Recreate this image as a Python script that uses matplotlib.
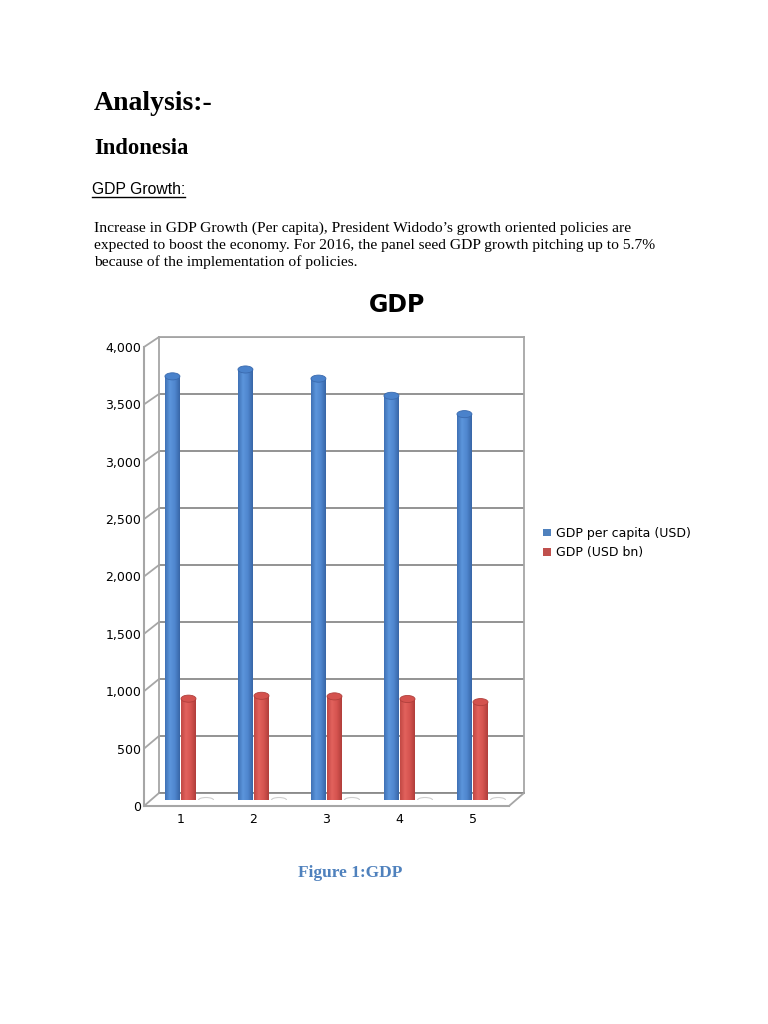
import numpy as np
import matplotlib
matplotlib.use("Agg")
import matplotlib.pyplot as plt
from matplotlib.patches import Rectangle, Ellipse, Patch, ConnectionPatch
from matplotlib.colors import LinearSegmentedColormap
from matplotlib.lines import Line2D

# data
categories = [1, 2, 3, 4, 5]
gdp_per_capita = [3700, 3760, 3680, 3530, 3370]
gdp_bn = [885, 910, 905, 882, 855]
series3 = [0, 0, 0, 0, 0]
yticks = [0, 500, 1000, 1500, 2000, 2500, 3000, 3500, 4000]
ytick_labels = ["0", "500", "1,000", "1,500", "2,000", "2,500", "3,000", "3,500", "4,000"]
legend_labels = ["GDP per capita (USD)", "GDP (USD bn)"]

paragraph = [
    "Increase in GDP Growth (Per capita), President Widodo\u2019s growth oriented policies are",
    "expected to boost the economy. For 2016, the panel seed GDP growth pitching up to 5.7%",
    "because of the implementation of policies.",
]

W, H = 768, 1024
fig = plt.figure(figsize=(W / 100, H / 100), dpi=100)
fig.patch.set_facecolor("white")


def px_rect(left, bottom_y, width, height):
    # pixel box (top-left origin) -> figure fraction
    return [left / W, 1 - bottom_y / H, width / W, height / H]


serif = ["Liberation Serif", "DejaVu Serif"]
sans = ["Liberation Sans", "DejaVu Sans"]

# ---- document text ----
fig.text(94 / W, 1 - 103 / H, "Analysis:-", family=serif, weight="bold", fontsize=20, va="center")
fig.text(94 / W, 1 - 148 / H, "Indonesia", family=serif, weight="bold", fontsize=16.3, va="center")
gh = fig.text(92 / W, 1 - 189 / H, "GDP Growth:", family=sans, fontsize=11.3, va="center")
for i, line in enumerate(paragraph):
    fig.text(94 / W, 1 - (228 + 17 * i) / H, line, family=serif, fontsize=11.15, va="center")
fig.text(350 / W, 1 - 873 / H, "Figure 1:GDP", family=serif, weight="bold", fontsize=12.5,
         color="#4F81BD", ha="center", va="center")

# underline under "GDP Growth:"
fig.canvas.draw()
bb = gh.get_window_extent(fig.canvas.get_renderer())
fig.add_artist(Line2D([bb.x0 / W, bb.x1 / W], [1 - 197 / H, 1 - 197 / H], color="black", lw=1))

# ---- chart title ----
fig.text(397 / W, 1 - 305 / H, "GDP", family=["DejaVu Sans"], weight="bold", fontsize=17,
         ha="center", va="center")

xlim = (0.5, 5.5)
ylim = (0, 4000)
grid_col = "#8A8A8A"
frame_col = "#A6A6A6"

# back wall
ax_back = fig.add_axes(px_rect(159, 793, 365, 456))
ax_back.set_xlim(xlim)
ax_back.set_ylim(ylim)
ax_back.set_yticks(yticks)
ax_back.yaxis.grid(True, color=grid_col, lw=1.3)
ax_back.set_xticks([])
ax_back.tick_params(left=False, labelleft=False)
for s in ax_back.spines.values():
    s.set_color(frame_col)
    s.set_linewidth(1.3)
ax_back.spines["bottom"].set_color(grid_col)

# front plane (axis labels)
ax_front = fig.add_axes(px_rect(144, 806, 365, 459))
ax_front.set_xlim(xlim)
ax_front.set_ylim(ylim)
ax_front.patch.set_visible(False)
ax_front.set_yticks(yticks)
ax_front.set_yticklabels(ytick_labels, fontsize=9)
ax_front.set_xticks(categories)
ax_front.set_xticklabels([str(c) for c in categories], fontsize=9)
ax_front.tick_params(length=0, pad=2)
ax_front.tick_params(axis="x", pad=5)
for k in ["top", "right"]:
    ax_front.spines[k].set_visible(False)
for k in ["left", "bottom"]:
    ax_front.spines[k].set_color(frame_col)
    ax_front.spines[k].set_linewidth(1.5)

# side wall / floor connectors
for t in yticks:
    con = ConnectionPatch((xlim[0], t), (xlim[0], t), coordsA=ax_front.transData,
                          coordsB=ax_back.transData, color=frame_col, lw=1.3)
    fig.add_artist(con)
con = ConnectionPatch((xlim[1], 0), (xlim[1], 0), coordsA=ax_front.transData,
                      coordsB=ax_back.transData, color=frame_col, lw=1.3)
fig.add_artist(con)

# middle plane for the cylinders
ax_mid = fig.add_axes(px_rect(152, 800, 365, 458))
ax_mid.set_xlim(xlim)
ax_mid.set_ylim(ylim)
ax_mid.axis("off")

blue_cmap = LinearSegmentedColormap.from_list("b", ["#3F71B5", "#5C95DC", "#4F86CE", "#3866A6"])
red_cmap = LinearSegmentedColormap.from_list("r", ["#C24844", "#E2625D", "#D5534F", "#B03E3B"])
grad = np.linspace(0, 1, 64).reshape(1, -1)
bw = 0.205
eh = 62


def cylinder(ax, x, h, cmap, top_col, edge_col):
    x0, x1 = x - bw / 2, x + bw / 2
    body = Rectangle((x0, 0), bw, h, facecolor="none", edgecolor="none")
    ax.add_patch(body)
    im = ax.imshow(grad, cmap=cmap, extent=(x0, x1, 0, h), aspect="auto", origin="lower", zorder=2)
    im.set_clip_path(body)
    base = Ellipse((x, 0), bw, eh, facecolor="none", edgecolor="none")
    ax.add_patch(base)
    im2 = ax.imshow(grad, cmap=cmap, extent=(x0, x1, -eh, 0), aspect="auto", origin="lower", zorder=2)
    im2.set_clip_path(base)
    ax.add_patch(Ellipse((x, h), bw, eh, facecolor=top_col, edgecolor=edge_col, lw=0.6, zorder=3))


for i, c in enumerate(categories):
    cylinder(ax_mid, c - 0.22, gdp_per_capita[i], blue_cmap, "#4A82CB", "#3A6AAE")
    cylinder(ax_mid, c, gdp_bn[i], red_cmap, "#D4524E", "#B0403C")
    ax_mid.add_patch(Ellipse((c + 0.24, series3[i]), bw, eh * 0.7, facecolor="white",
                             edgecolor="#CFCFCF", lw=0.8, zorder=2))

ax_mid.set_xlim(xlim)
ax_mid.set_ylim(ylim)

handles = [Patch(facecolor="#4F81BD"), Patch(facecolor="#C0504D")]
fig.legend(handles, legend_labels, loc="center left", bbox_to_anchor=(532 / W, 1 - 543 / H),
           frameon=False, fontsize=9, handlelength=0.6, handleheight=0.6, handletextpad=0.4,
           labelspacing=0.5)

fig.savefig("out.png", dpi=100, facecolor="white")
